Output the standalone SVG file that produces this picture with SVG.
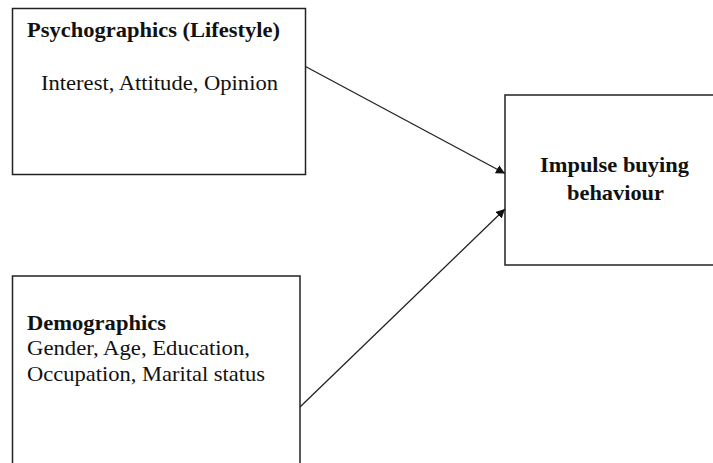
<svg xmlns="http://www.w3.org/2000/svg" width="713" height="463" viewBox="0 0 713 463">
<style>
.box{fill:#fff;stroke:#222;stroke-width:1.5}
.t{font-family:"Liberation Serif","Times New Roman",serif;font-size:22px;fill:#111}
.b{font-weight:bold}
.c{stroke:#222;stroke-width:1.3;fill:none}
</style>
<defs>
<marker id="ah" viewBox="0 0 10 10" refX="10" refY="5" markerWidth="9" markerHeight="9" markerUnits="userSpaceOnUse" orient="auto">
<path d="M0,0 L10,5 L0,10 Z" fill="#111"/>
</marker>
</defs>
<rect width="713" height="463" fill="#fff"/>
<g id="psychographics">
<rect class="box" x="12.5" y="8.5" width="293" height="166"/>
<text class="t b" x="27" y="37" textLength="253" lengthAdjust="spacingAndGlyphs">Psychographics (Lifestyle)</text>
<text class="t" x="41" y="90" textLength="237" lengthAdjust="spacingAndGlyphs">Interest, Attitude, Opinion</text>
</g>
<g id="demographics">
<rect class="box" x="12.5" y="276" width="287.5" height="200"/>
<text class="t b" x="27" y="329.5" textLength="139" lengthAdjust="spacingAndGlyphs">Demographics</text>
<text class="t" x="27" y="354.5" textLength="223" lengthAdjust="spacingAndGlyphs">Gender, Age, Education,</text>
<text class="t" x="27" y="381" textLength="238" lengthAdjust="spacingAndGlyphs">Occupation, Marital status</text>
</g>
<g id="impulse">
<rect class="box" x="505" y="95" width="230" height="170"/>
<text class="t b" x="540" y="172" textLength="149" lengthAdjust="spacingAndGlyphs">Impulse buying</text>
<text class="t b" x="567" y="200" textLength="97" lengthAdjust="spacingAndGlyphs">behaviour</text>
</g>
<g id="connectors">
<line class="c" x1="305.5" y1="66.5" x2="505" y2="173.5" marker-end="url(#ah)"/>
<line class="c" x1="300" y1="407" x2="505" y2="209" marker-end="url(#ah)"/>
</g>
</svg>
